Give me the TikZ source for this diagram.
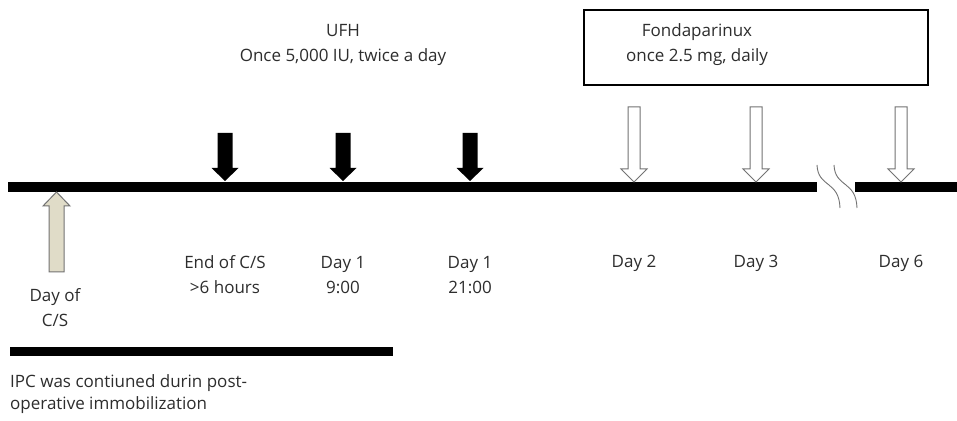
\documentclass[tikz,border=0pt]{standalone}
\usepackage{fontspec}
\setmainfont{Open Sans}
\begin{document}
\begin{tikzpicture}[x=1pt,y=1pt]
\definecolor{fillColor}{RGB}{255,255,255}
\definecolor{drawColor}{RGB}{0,0,0}
\definecolor{textColor}{RGB}{45,45,45}
\definecolor{beigeColor}{RGB}{224,220,200}
\definecolor{edgeColor}{gray}{0.45}
\tikzset{
  lbl/.style={text=textColor,align=center,inner sep=0pt,font=\fontsize{17}{25}\selectfont},
  lblleft/.style={lbl,align=left,anchor=west,font=\fontsize{17}{22}\selectfont},
  bar/.style={draw=none,fill=drawColor},
  openarrow/.style={draw=edgeColor,line width=1pt,fill=fillColor,line join=miter}
}
\path[use as bounding box,fill=fillColor] (0,0) rectangle (957,420);

% main time line, broken before day 6
\path[bar] (8,228) rectangle (817,238);
\path[bar] (855,228) rectangle (957,238);
\path[draw=edgeColor,line width=0.9pt] (817,255) .. controls (818,232) and (839,240) .. (840,212);
\path[draw=edgeColor,line width=0.9pt] (834,255) .. controls (835,232) and (856,240) .. (857,212);

% UFH doses
\foreach \xx in {225,343,470}{
  \path[bar] (\xx-7.5,287) -- (\xx+7.5,287) -- (\xx+7.5,252) -- (\xx+13.5,252) --
	(\xx,239) -- (\xx-13.5,252) -- (\xx-7.5,252) -- cycle;
}

% Fondaparinux doses
\foreach \xx in {634,756,901}{
  \path[openarrow] (\xx-6,313) -- (\xx+6,313) -- (\xx+6,251) -- (\xx+13,251) --
	(\xx,238) -- (\xx-13,251) -- (\xx-6,251) -- cycle;
}

% day of C/S
\path[draw=edgeColor,line width=1pt,fill=beigeColor] (49,148) -- (64,148) -- (64,214) -- (70,214) --
	(56.5,228) -- (43,214) -- (49,214) -- cycle;

% box
\path[draw=drawColor,line width=2pt] (584,335) rectangle (928,410);

\node[lbl] (ufh) at (343,375) {UFH\\Once 5,000 IU, twice a day};
\node[lbl] (fonda) at (697,375) {Fondaparinux\\once 2.5 mg, daily};

\node[lbl] (endcs) at (225,145) {End of C/S\\>6 hours};
\node[lbl] (dayA) at (343,145) {Day 1\\9:00};
\node[lbl] (dayB) at (470,145) {Day 1\\21:00};
\node[lbl] (dayC) at (634,157) {Day 2};
\node[lbl] (dayD) at (756,157) {Day 3};
\node[lbl] (dayE) at (901,157) {Day 6};
\node[lbl] (daycs) at (55,112) {Day of\\C/S};

% IPC
\path[bar] (10,64) rectangle (393,73);
\node[lblleft] (ipc) at (10,26) {IPC was contiuned durin post-\\operative immobilization};
\end{tikzpicture}
\end{document}
